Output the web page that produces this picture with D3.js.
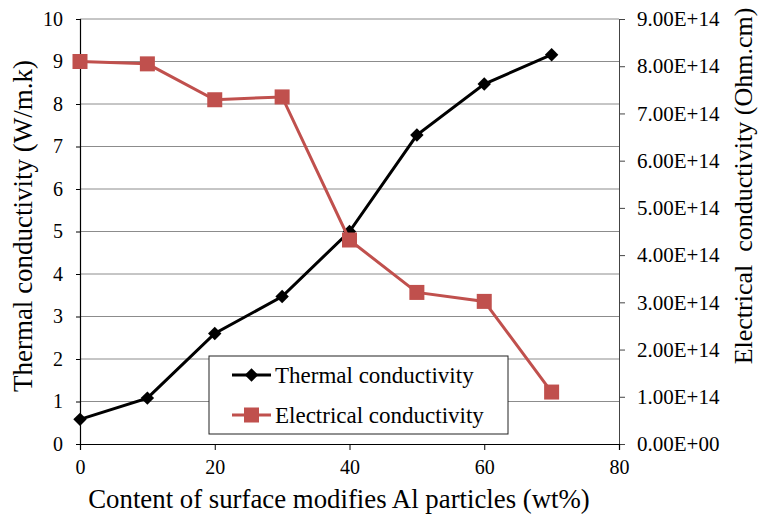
<!DOCTYPE html>
<html>
<head>
<meta charset="utf-8">
<script src="https://cdn.jsdelivr.net/npm/d3@7"></script>
</head>
<body style="margin:0">
<svg id="drawing_region"></svg>
<script>
// data
const content = [0, 10, 20, 30, 40, 50, 60, 70];
const thermal = [0.58, 1.08, 2.6, 3.47, 5.0, 7.27, 8.47, 9.16];
const electrical = [8.10e14, 8.05e14, 7.29e14, 7.35e14, 4.32e14, 3.21e14, 3.02e14, 1.10e14];
const xTicks = [0, 20, 40, 60, 80];
const leftTicks = [0, 1, 2, 3, 4, 5, 6, 7, 8, 9, 10];
const rightTicks = [0, 1e14, 2e14, 3e14, 4e14, 5e14, 6e14, 7e14, 8e14, 9e14];
const seriesNames = ["Thermal conductivity", "Electrical conductivity"];

const FONT = 'Liberation Serif';
const RED = '#c0504d';

const config = {
    width: 759,
    height: 519,
    margin: {top: 19, right: 140, bottom: 75, left: 80}
};

const svg = d3.select('#drawing_region')
    .attr('width', config.width)
    .attr('height', config.height);

const innerW = config.width - config.margin.left - config.margin.right;
const innerH = config.height - config.margin.top - config.margin.bottom;

const chart = svg.append('g')
    .attr('transform', `translate(${config.margin.left}, ${config.margin.top})`);

const x = d3.scaleLinear().domain([0, 80]).range([0, innerW]);
const yL = d3.scaleLinear().domain([0, 10]).range([innerH, 0]);
const yR = d3.scaleLinear().domain([0, 9e14]).range([innerH, 0]);

function serif(sel, size) {
    sel.style('font-family', FONT).attr('font-family', FONT).attr('font-size', size);
}

// gridlines
chart.append('g')
    .selectAll('line')
    .data(leftTicks.slice(1))
    .join('line')
    .attr('x1', 0).attr('x2', innerW)
    .attr('y1', d => yL(d)).attr('y2', d => yL(d))
    .attr('stroke', '#8c8c8c')
    .attr('stroke-width', 1);

// left axis
const leftAxis = chart.append('g')
    .call(d3.axisLeft(yL).tickValues(leftTicks).tickSize(4).tickPadding(13));
leftAxis.attr('font-family', null).attr('font-size', null);
leftAxis.select('.domain').attr('stroke', '#000').attr('stroke-width', 1.2);
leftAxis.selectAll('.tick line').attr('stroke', '#000');
leftAxis.selectAll('text').call(serif, 20);

// right axis
const rightAxis = chart.append('g')
    .attr('transform', `translate(${innerW}, 0)`)
    .call(d3.axisRight(yR).tickValues(rightTicks).tickSize(6).tickPadding(12)
        .tickFormat(d => {
            const e = d === 0 ? 0 : Math.floor(Math.log10(d));
            const m = d === 0 ? 0 : d / Math.pow(10, e);
            return m.toFixed(2) + 'E+' + String(e).padStart(2, '0');
        }));
rightAxis.attr('font-family', null).attr('font-size', null);
rightAxis.select('.domain').attr('stroke', '#444').attr('stroke-width', 1);
rightAxis.selectAll('.tick line').attr('stroke', '#444');
rightAxis.selectAll('text').call(serif, 21);

// bottom axis
const bottomAxis = chart.append('g')
    .attr('transform', `translate(0, ${innerH})`)
    .call(d3.axisBottom(x).tickValues(xTicks).tickSize(6).tickPadding(10));
bottomAxis.attr('font-family', null).attr('font-size', null);
bottomAxis.select('.domain').attr('stroke', '#000').attr('stroke-width', 1.2);
bottomAxis.selectAll('.tick line').attr('stroke', '#000');
bottomAxis.selectAll('text').call(serif, 20);

const diamond = d3.symbol().type(d3.symbolDiamond2).size(115);

// thermal series
const thermData = content.map((c, i) => ({x: c, y: thermal[i]}));
chart.append('path')
    .datum(thermData)
    .attr('fill', 'none')
    .attr('stroke', '#000')
    .attr('stroke-width', 3)
    .attr('d', d3.line().x(d => x(d.x)).y(d => yL(d.y)));
chart.selectAll('.dm')
    .data(thermData)
    .join('path')
    .attr('class', 'dm')
    .attr('transform', d => `translate(${x(d.x)}, ${yL(d.y)})`)
    .attr('d', diamond)
    .attr('fill', '#000');

// electrical series (secondary axis, drawn on top)
const elecData = content.map((c, i) => ({x: c, y: electrical[i]}));
chart.append('path')
    .datum(elecData)
    .attr('fill', 'none')
    .attr('stroke', RED)
    .attr('stroke-width', 3)
    .attr('d', d3.line().x(d => x(d.x)).y(d => yR(d.y)));
chart.selectAll('.sq')
    .data(elecData)
    .join('rect')
    .attr('class', 'sq')
    .attr('x', d => x(d.x) - 7.5).attr('y', d => yR(d.y) - 7.5)
    .attr('width', 15).attr('height', 15)
    .attr('fill', RED);

// legend
const legend = svg.append('g').attr('transform', 'translate(209, 356)');
legend.append('rect')
    .attr('width', 299).attr('height', 78)
    .attr('fill', '#fff').attr('stroke', '#222').attr('stroke-width', 1);
seriesNames.forEach((name, i) => {
    const ly = 19 + i * 40;
    const col = i === 0 ? '#000' : RED;
    legend.append('line')
        .attr('x1', 23).attr('x2', 62).attr('y1', ly).attr('y2', ly)
        .attr('stroke', col).attr('stroke-width', 3);
    if (i === 0) {
        legend.append('path')
            .attr('transform', `translate(42.5, ${ly})`)
            .attr('d', diamond).attr('fill', col);
    } else {
        legend.append('rect')
            .attr('x', 35).attr('y', ly - 7.5).attr('width', 15).attr('height', 15)
            .attr('fill', col);
    }
    legend.append('text')
        .attr('x', 66).attr('y', ly + 8)
        .call(serif, 23)
        .text(name);
});

// axis titles
svg.append('text')
    .attr('x', 339).attr('y', 508)
    .attr('text-anchor', 'middle')
    .call(serif, 26.8)
    .text('Content of surface modifies Al particles (wt%)');

svg.append('text')
    .attr('transform', 'translate(32, 226) rotate(-90)')
    .attr('text-anchor', 'middle')
    .call(serif, 27)
    .text('Thermal conductivity (W/m.k)');

svg.append('text')
    .attr('transform', 'translate(752, 186) rotate(-90)')
    .attr('text-anchor', 'middle')
    .call(serif, 26)
    .attr('xml:space', 'preserve')
    .text('Electrical  conductivity (Ohm.cm)');
</script>
</body>
</html>
